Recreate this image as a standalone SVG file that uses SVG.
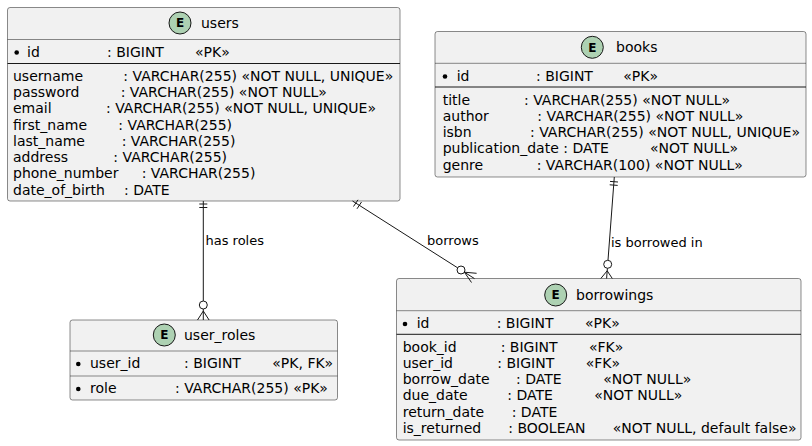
<svg xmlns="http://www.w3.org/2000/svg" width="812" height="446" viewBox="0 0 812 446">
<style>
.box{fill:#F1F1F1;stroke:#181818;stroke-width:0.5}
.div{stroke:#181818;stroke-width:0.5}
.pk{stroke:#181818;stroke-width:1}
.spot{fill:#ADD1B2;stroke:#181818;stroke-width:1}
.E{font-family:"DejaVu Sans",sans-serif;font-weight:bold;font-size:12px;fill:#000;text-anchor:middle}
.t{font-family:"DejaVu Sans",sans-serif;font-size:14px;fill:#000}
.lbl{font-family:"DejaVu Sans",sans-serif;font-size:13px;fill:#000}
.dot{fill:#000}
.ln{stroke:#181818;stroke-width:1;fill:none}
.cir{stroke:#181818;stroke-width:1;fill:#FFFFFF}
</style>
<rect width="812" height="446" fill="#FFFFFF"/>

<g id="users">
<rect class="box" x="7.5" y="7.5" width="392.5" height="193.5" rx="2.5"/>
<circle class="spot" cx="180" cy="23" r="11"/>
<text class="E" x="180" y="27.3">E</text>
<text class="t" x="201" y="28">users</text>
<line class="div" x1="7.5" y1="39.5" x2="400" y2="39.5"/>
<circle class="dot" cx="16.7" cy="52.5" r="2.3"/>
<text class="t" y="56.7"><tspan x="27">id</tspan><tspan x="107">: BIGINT</tspan><tspan x="195">«PK»</tspan></text>
<line class="pk" x1="7.5" y1="63.5" x2="400" y2="63.5"/>
<text class="t" y="80.6"><tspan x="13">username</tspan><tspan x="123.3">: VARCHAR(255) «NOT NULL, UNIQUE»</tspan></text>
<text class="t" y="96.9"><tspan x="13">password</tspan><tspan x="120.7">: VARCHAR(255) «NOT NULL»</tspan></text>
<text class="t" y="113.2"><tspan x="13">email</tspan><tspan x="106">: VARCHAR(255) «NOT NULL, UNIQUE»</tspan></text>
<text class="t" y="129.5"><tspan x="13">first_name</tspan><tspan x="118.3">: VARCHAR(255)</tspan></text>
<text class="t" y="145.8"><tspan x="13">last_name</tspan><tspan x="121.7">: VARCHAR(255)</tspan></text>
<text class="t" y="162.1"><tspan x="13">address</tspan><tspan x="113.3">: VARCHAR(255)</tspan></text>
<text class="t" y="178.4"><tspan x="13">phone_number</tspan><tspan x="141.7">: VARCHAR(255)</tspan></text>
<text class="t" y="194.7"><tspan x="13">date_of_birth</tspan><tspan x="124">: DATE</tspan></text>
</g>

<g id="books">
<rect class="box" x="435" y="31.5" width="371" height="145.5" rx="2.5"/>
<circle class="spot" cx="592.3" cy="47.3" r="11"/>
<text class="E" x="592.3" y="51.6">E</text>
<text class="t" x="616" y="52.3">books</text>
<line class="div" x1="435" y1="63.3" x2="806" y2="63.3"/>
<circle class="dot" cx="445" cy="76.5" r="2.3"/>
<text class="t" y="80.7"><tspan x="456.7">id</tspan><tspan x="536">: BIGINT</tspan><tspan x="623.3">«PK»</tspan></text>
<line class="pk" x1="435" y1="87" x2="806" y2="87"/>
<text class="t" y="104.5"><tspan x="442.7">title</tspan><tspan x="524">: VARCHAR(255) «NOT NULL»</tspan></text>
<text class="t" y="120.8"><tspan x="442.7">author</tspan><tspan x="537.3">: VARCHAR(255) «NOT NULL»</tspan></text>
<text class="t" y="137.1"><tspan x="442.7">isbn</tspan><tspan x="530">: VARCHAR(255) «NOT NULL, UNIQUE»</tspan></text>
<text class="t" y="153.4"><tspan x="442.7">publication_date : DATE</tspan><tspan x="650">«NOT NULL»</tspan></text>
<text class="t" y="169.7"><tspan x="442.7">genre</tspan><tspan x="536.7">: VARCHAR(100) «NOT NULL»</tspan></text>
</g>

<g id="borrowings">
<rect class="box" x="396.5" y="278.5" width="404.5" height="161.5" rx="2.5"/>
<circle class="spot" cx="555.7" cy="295" r="11"/>
<text class="E" x="555.7" y="299.3">E</text>
<text class="t" x="576" y="300">borrowings</text>
<line class="div" x1="396.5" y1="310.7" x2="801" y2="310.7"/>
<circle class="dot" cx="405" cy="324" r="2.3"/>
<text class="t" y="328.2"><tspan x="416.7">id</tspan><tspan x="496.7">: BIGINT</tspan><tspan x="585">«PK»</tspan></text>
<line class="pk" x1="396.5" y1="334.3" x2="801" y2="334.3"/>
<text class="t" y="351.7"><tspan x="402.7">book_id</tspan><tspan x="500.7">: BIGINT</tspan><tspan x="589">«FK»</tspan></text>
<text class="t" y="367.9"><tspan x="402.7">user_id</tspan><tspan x="497.3">: BIGINT</tspan><tspan x="585.7">«FK»</tspan></text>
<text class="t" y="384.1"><tspan x="402.7">borrow_date</tspan><tspan x="516">: DATE</tspan><tspan x="603.3">«NOT NULL»</tspan></text>
<text class="t" y="400.3"><tspan x="402.7">due_date</tspan><tspan x="507.3">: DATE</tspan><tspan x="594.3">«NOT NULL»</tspan></text>
<text class="t" y="416.5"><tspan x="402.7">return_date</tspan><tspan x="511.7">: DATE</tspan></text>
<text class="t" y="432.7"><tspan x="402.7">is_returned</tspan><tspan x="508.3">: BOOLEAN</tspan><tspan x="612.7">«NOT NULL, default false»</tspan></text>
</g>

<g id="user_roles">
<rect class="box" x="70" y="320" width="267.5" height="80" rx="2.5"/>
<circle class="spot" cx="164.3" cy="335" r="11"/>
<text class="E" x="164.3" y="339.3">E</text>
<text class="t" x="184" y="340">user_roles</text>
<line class="div" x1="70" y1="351" x2="337.5" y2="351"/>
<circle class="dot" cx="78.3" cy="364" r="2.3"/>
<text class="t" y="368.2"><tspan x="90">user_id</tspan><tspan x="184">: BIGINT</tspan><tspan x="272.3">«PK, FK»</tspan></text>
<line class="div" x1="70" y1="376" x2="337.5" y2="376"/>
<circle class="dot" cx="78.3" cy="389" r="2.3"/>
<text class="t" y="393.2"><tspan x="90">role</tspan><tspan x="175">: VARCHAR(255) «PK»</tspan></text>
</g>

<g id="connectors">
<!-- users -> user_roles -->
<line class="ln" x1="203.3" y1="201" x2="203.3" y2="301"/>
<line class="ln" x1="199.3" y1="204" x2="207.3" y2="204"/>
<line class="ln" x1="199.3" y1="207.5" x2="207.3" y2="207.5"/>
<circle class="cir" cx="203.3" cy="305" r="4"/>
<path class="ln" d="M203.3,309 L203.3,320 M203.3,311 L197.5,320 M203.3,311 L209.1,320"/>
<text class="lbl" x="205.5" y="245">has roles</text>

<!-- users -> borrowings -->
<line class="ln" x1="352.5" y1="201" x2="457.6" y2="267.8"/>
<path class="ln" d="M353.5,206.5 L358,199.8 M357,208.8 L361.5,202"/>
<circle class="cir" cx="461" cy="270" r="4"/>
<path class="ln" d="M464.4,272.2 L476.6,273.3 M464.4,272.2 L474.5,278.6 M464.4,272.2 L471.5,282.5"/>
<text class="lbl" x="427" y="245">borrows</text>

<!-- books -> borrowings -->
<line class="ln" x1="614.3" y1="177" x2="608" y2="260.3"/>
<line class="ln" x1="610" y1="181.4" x2="618" y2="182"/>
<line class="ln" x1="609.7" y1="184.8" x2="617.7" y2="185.4"/>
<circle class="cir" cx="607.7" cy="264.3" r="4"/>
<path class="ln" d="M607.4,268.3 L606.6,278.5 M607.2,270.8 L600.8,278.5 M607.2,270.8 L612.3,278.5"/>
<text class="lbl" x="611" y="247">is borrowed in</text>
</g>
</svg>
